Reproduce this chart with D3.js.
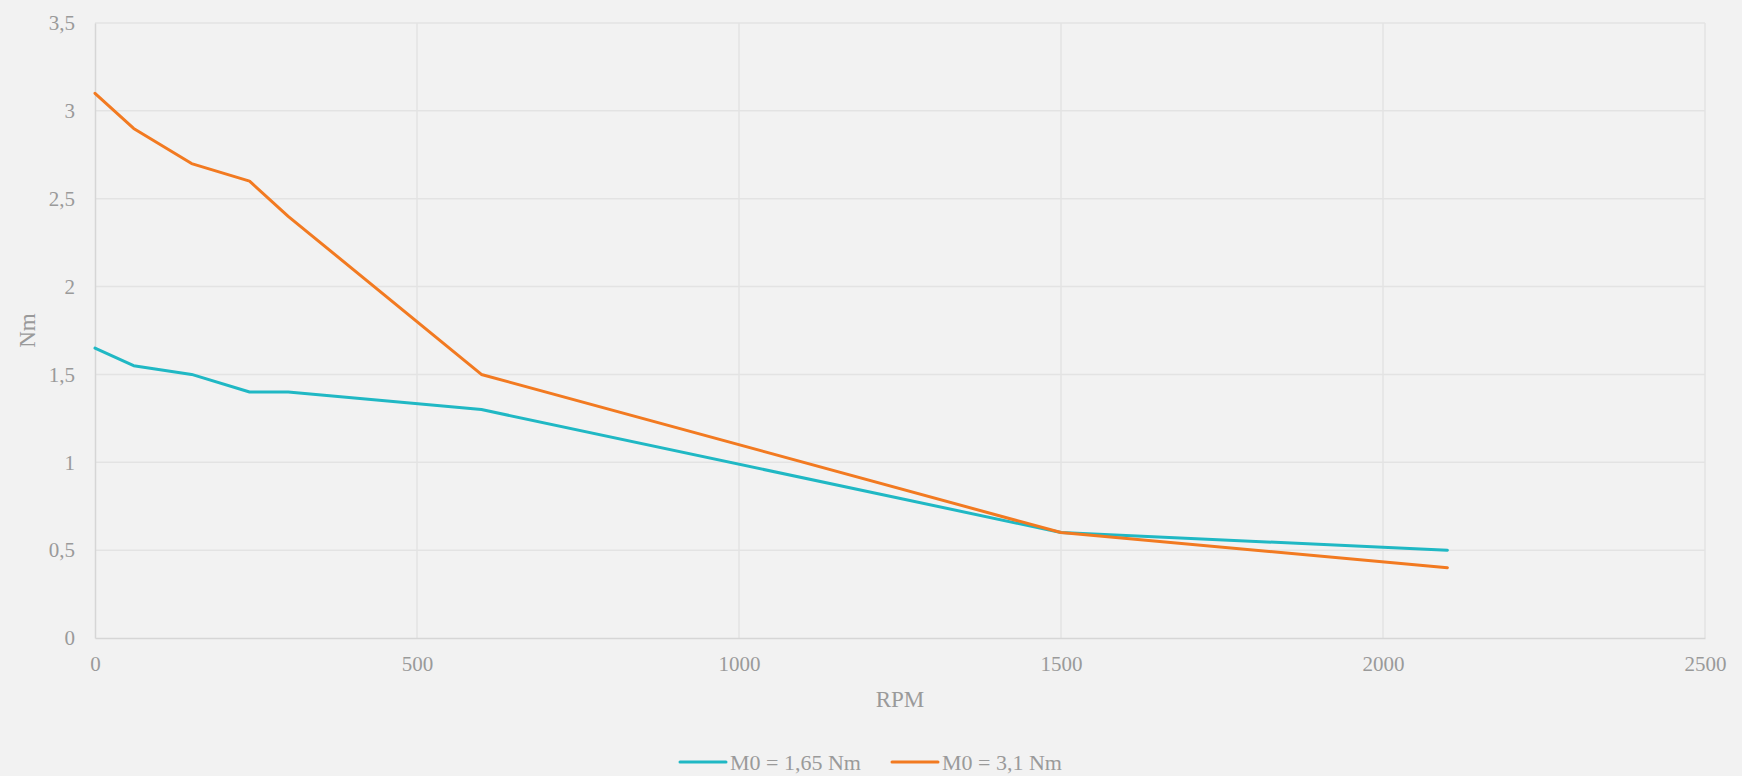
<!DOCTYPE html>
<html>
<head>
<meta charset="utf-8">
<script src="https://cdn.jsdelivr.net/npm/d3@7"></script>
<style>
    html, body { margin: 0; padding: 0; background: #f2f2f2; }
    text { font-family: "Liberation Serif", "DejaVu Serif", serif; fill: #9a9a9a; }
</style>
</head>
<body>
<div id="chart"></div>
<script>
var width = 1742;
var height = 776;
var margin = {left: 95, right: 37, top: 23, bottom: 138};

// RPM values
var rpm = [0, 60, 150, 240, 300, 600, 1500, 2100];
// torque for each motor, Nm
var torqueLow = [1.65, 1.55, 1.5, 1.4, 1.4, 1.3, 0.6, 0.5];
var torqueHigh = [3.1, 2.9, 2.7, 2.6, 2.4, 1.5, 0.6, 0.4];

var seriesNames = ["M0 = 1,65 Nm", "M0 = 3,1 Nm"];
var seriesColors = ["#20b8c4", "#f27a21"];

var xTicks = [0, 500, 1000, 1500, 2000, 2500];
var yTicks = [0, 0.5, 1, 1.5, 2, 2.5, 3, 3.5];

var svg = d3.select("#chart").append("svg")
    .attr("width", width)
    .attr("height", height);

svg.append("rect").attr("width", width).attr("height", height).attr("fill", "#f2f2f2");

var x = d3.scaleLinear().domain([0, 2500]).range([margin.left, width - margin.right]);
var y = d3.scaleLinear().domain([0, 3.5]).range([height - margin.bottom, margin.top]);

var fmt = d => String(d).replace(".", ",");

// gridlines
svg.append("g")
    .selectAll("line")
    .data(yTicks.slice(1)).enter().append("line")
    .attr("x1", x(0)).attr("x2", x(2500))
    .attr("y1", d => y(d)).attr("y2", d => y(d))
    .style("stroke", "#e3e3e3").style("stroke-width", "1.5px");
svg.append("g")
    .selectAll("line")
    .data(xTicks.slice(1)).enter().append("line")
    .attr("x1", d => x(d)).attr("x2", d => x(d))
    .attr("y1", y(0)).attr("y2", y(3.5))
    .style("stroke", "#e3e3e3").style("stroke-width", "1.5px");

// axes
var xAxis = svg.append("g")
    .attr("transform", "translate(0," + y(0) + ")")
    .call(d3.axisBottom(x).tickValues(xTicks).tickFormat(fmt).tickSize(0).tickPadding(18));
var yAxis = svg.append("g")
    .attr("transform", "translate(" + x(0) + ",0)")
    .call(d3.axisLeft(y).tickValues(yTicks).tickFormat(fmt).tickSize(0).tickPadding(20));

[xAxis, yAxis].forEach(a => {
    a.select(".domain").style("stroke", "#d6d6d6").style("stroke-width", "1.5px");
    a.selectAll("text").style("font-size", "21px").style("fill", "#9a9a9a")
        .style("font-family", "'Liberation Serif', serif");
});

// axis titles
svg.append("text")
    .attr("x", (x(0) + x(2500)) / 2).attr("y", 707)
    .attr("text-anchor", "middle").style("font-size", "23px")
    .text("RPM");
svg.append("text")
    .attr("transform", "translate(35," + ((y(0) + y(3.5)) / 2) + ") rotate(-90)")
    .attr("text-anchor", "middle").style("font-size", "23px")
    .text("Nm");

// lines
var lineGenerator = d3.line().x(d => x(d[0])).y(d => y(d[1]));
var series = [torqueLow, torqueHigh];
series.forEach((vals, i) => {
    var points = rpm.map((r, j) => [r, vals[j]]);
    svg.append("path")
        .datum(points)
        .attr("d", lineGenerator)
        .style("fill", "none")
        .style("stroke", seriesColors[i])
        .style("stroke-width", "3px")
        .style("stroke-linejoin", "round")
        .style("stroke-linecap", "round");
});

// legend
var legendX = [680, 892];
var legendY = 762;
seriesNames.forEach((name, i) => {
    svg.append("line")
        .attr("x1", legendX[i]).attr("x2", legendX[i] + 46)
        .attr("y1", legendY).attr("y2", legendY)
        .style("stroke", seriesColors[i]).style("stroke-width", "3px")
        .style("stroke-linecap", "round");
    svg.append("text")
        .attr("x", legendX[i] + 50).attr("y", legendY)
        .attr("dy", "0.35em")
        .style("font-size", "22px")
        .text(name);
});
</script>
</body>
</html>
